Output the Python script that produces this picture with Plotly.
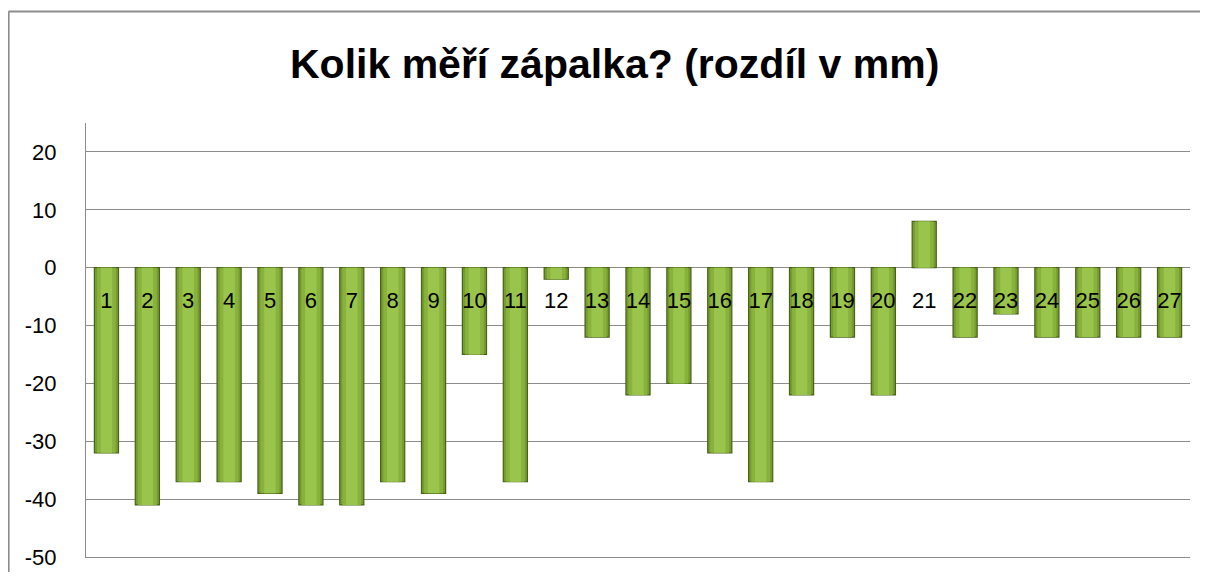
import plotly.graph_objects as go

categories = [str(i) for i in range(1, 28)]
values = [-32, -41, -37, -37, -39, -41, -41, -37, -39, -15, -37, -2, -12, -22, -20,
          -32, -37, -22, -12, -22, 8, -12, -8, -12, -12, -12, -12]
label_level = [-6] * len(categories)
y_ticks = [20, 10, 0, -10, -20, -30, -40, -50]
title_text = "Kolik měří zápalka? (rozdíl v mm)"

FONT = "Liberation Sans"

fig = go.Figure()
# layered bars to imitate the rounded/bevelled green fill
fig.add_trace(go.Bar(
    x=categories, y=values, width=0.59,
    marker=dict(color="#769C2E", line=dict(color="#48621A", width=1.2)),
    hoverinfo="x+y", showlegend=False,
))
fig.add_trace(go.Bar(
    x=categories, y=values, width=0.46,
    marker=dict(color="#88B23C", line=dict(width=0)),
    hoverinfo="skip", showlegend=False,
))
fig.add_trace(go.Bar(
    x=categories, y=values, width=0.28,
    marker=dict(color="#9AC54C", line=dict(width=0)),
    hoverinfo="skip", showlegend=False,
))
fig.add_trace(go.Scatter(
    x=categories, y=label_level, mode="text", text=categories,
    textfont=dict(family=FONT, size=22, color="#000000"),
    hoverinfo="skip", showlegend=False,
))

# page body has an 8px margin; positions below are in figure pixels
W, H = 1192, 564
L, R, T, B = 78, 10, 115, 15
pw, ph = W - L - R, H - T - B

def px(x):
    return (x - L) / pw

def py(y):
    return (H - B - y) / ph

border = dict(color="#8C8C8C", width=2.2)

fig.update_layout(
    template="none",
    width=W, height=H,
    margin=dict(l=L, r=R, t=T, b=B, autoexpand=False),
    paper_bgcolor="white", plot_bgcolor="white",
    barmode="overlay",
    showlegend=False,
    xaxis=dict(type="category", showticklabels=False, showgrid=False, zeroline=False,
               showline=True, linecolor="#8C8C8C", linewidth=1.3,
               ticks="", range=[-0.5, 26.5], automargin=False),
    yaxis=dict(range=[-50, 25], tickvals=y_ticks, ticktext=[str(v) for v in y_ticks],
               showgrid=True, gridcolor="#8C8C8C", gridwidth=1.3,
               zeroline=True, zerolinecolor="#8C8C8C", zerolinewidth=1.3,
               showline=True, linecolor="#8C8C8C", linewidth=1.3,
               ticks="", ticklabelstandoff=24, automargin=False,
               tickfont=dict(family=FONT, size=22, color="#000000")),
    annotations=[dict(
        text="<b>" + title_text + "</b>", x=px(606), y=py(56), xref="paper", yref="paper",
        xanchor="center", yanchor="middle", showarrow=False,
        font=dict(family=FONT, size=41, color="#000000"),
    )],
    shapes=[
        dict(type="line", xref="paper", yref="paper",
             x0=px(0.5), x1=px(0.5), y0=py(H + 5), y1=py(3.5), line=border, layer="below"),
        dict(type="line", xref="paper", yref="paper",
             x0=px(0.5), x1=px(W + 5), y0=py(3.5), y1=py(3.5), line=border, layer="below"),
    ],
)

fig.write_html("out.html")
